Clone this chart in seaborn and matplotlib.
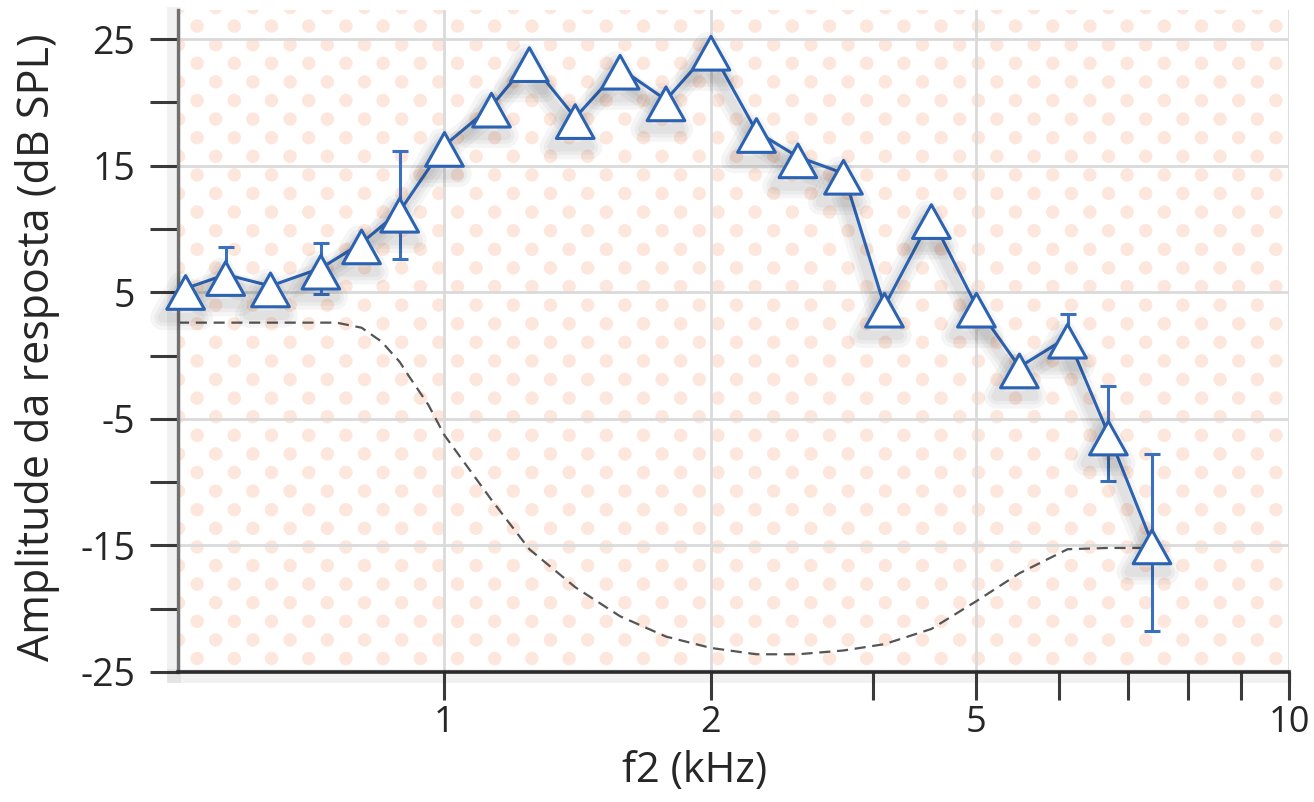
import numpy as np
import matplotlib
matplotlib.use("Agg")
import matplotlib.pyplot as plt
import matplotlib.patheffects as pe
from matplotlib.path import Path
from matplotlib.ticker import FixedLocator, NullFormatter
import pandas as pd
import seaborn as sns

# f2 frequency (kHz) and response amplitude (dB SPL)
FREQ = [0.51, 0.566, 0.636, 0.725, 0.806, 0.89, 1.0, 1.13, 1.247, 1.405, 1.579, 1.779,
        2.0, 2.34, 2.70, 3.16, 3.64, 4.28, 5.0, 5.5, 6.12, 6.70, 7.38]
AMP = [5.3, 6.4, 5.5, 6.9, 8.9, 11.4, 16.6, 19.7, 23.3, 18.8, 22.7, 20.2,
       24.2, 17.7, 15.7, 14.4, 3.9, 10.9, 3.9, -0.9, 1.45, -6.2, -14.8]

# points with error bars (index into FREQ), lower / upper error
ERR_IDX = [1, 3, 5, 20, 21, 22]
ERR_LO = [1.5, 2.0, 3.8, 1.4, 3.7, 7.0]
ERR_HI = [2.2, 2.0, 4.8, 1.8, 3.8, 7.0]

# dashed reference curve
NOISE_FREQ = [0.50, 0.566, 0.636, 0.725, 0.755, 0.806, 0.849, 0.89, 0.911, 0.959, 1.0,
              1.13, 1.247, 1.405, 1.579, 1.779, 2.0, 2.34, 2.70, 3.16, 3.64, 4.28,
              5.0, 5.5, 6.12, 6.70, 7.38]
NOISE_AMP = [2.6, 2.6, 2.6, 2.6, 2.6, 2.2, 1.1, -0.5, -1.6, -3.9, -6.3,
             -11.4, -15.3, -18.3, -20.6, -22.2, -23.1, -23.6, -23.6, -23.3, -22.8, -21.6,
             -19.4, -17.2, -15.3, -15.2, -15.2]

X_TICKS = [1, 2, 5, 10]
X_MINOR = [3.5, 6, 7, 8, 9]
Y_TICKS = [-25, -15, -5, 5, 15, 25]
Y_MINOR = [-20, -10, 0, 10, 20]

BLUE = "#2b62b2"

# frequency axis of the original: log-like but stretched unevenly between labels
AXIS_KHZ = [0.5, 1, 2, 5, 10]
AXIS_POS = [-1.0, 0.0, 1.0, 1.996, 3.169]
_lg = np.log2(AXIS_KHZ)
LG = np.concatenate([[-40], _lg, [40]])
POS = np.concatenate([[-1.0 - 39.0], AXIS_POS, [3.169 + (40 - _lg[-1]) * 1.173]])


def fwd(f):
    return np.interp(np.log2(np.clip(f, 1e-9, None)), LG, POS)


def inv(u):
    return 2.0 ** np.interp(u, POS, LG)


sns.set_theme(style="white")
plt.rcParams["font.family"] = ["Open Sans", "DejaVu Sans"]
plt.rcParams["axes.unicode_minus"] = False

fig = plt.figure(figsize=(13.14, 8.02), dpi=100)
W, H = 1111, 662
ax = fig.add_axes([178 / 1314, 1 - 672 / 802, W / 1314, H / 802])

# polka-dot background
yy, xx = np.mgrid[0:H, 0:W].astype(float)
gx, gy = xx / 18.6, (yy + 3) / 18.6
a, b = (gx + gy) / 2, (gx - gy) / 2
da, db = a - np.round(a), b - np.round(b)
dist = np.hypot((da + db) * 18.6, (da - db) * 18.6)
alpha = np.clip(7.2 - dist, 0, 1)[..., None]
dot = np.array([253, 231, 220]) / 255
bg = (1 - alpha) * np.ones(3) + alpha * dot
ax.imshow(bg, extent=(0, 1, 0, 1), transform=ax.transAxes, aspect="auto",
          zorder=-2, interpolation="antialiased")

ax.set_xscale("function", functions=(fwd, inv))

noise = pd.DataFrame({"f2": NOISE_FREQ, "amp": NOISE_AMP})
sns.lineplot(data=noise, x="f2", y="amp", ax=ax, color="#555555", lw=1.6,
             dashes=False, linestyle=(0, (5, 3)), zorder=2)

ax.errorbar([FREQ[i] for i in ERR_IDX], [AMP[i] for i in ERR_IDX],
            yerr=[ERR_LO, ERR_HI], fmt="none", ecolor="#3a70bd",
            elinewidth=2.2, capsize=6, capthick=2.2, zorder=3)

tri = Path([(-19, -21), (19, -21), (0, 13), (-19, -21)], closed=True)
df = pd.DataFrame({"f2": FREQ, "amp": AMP})
sns.lineplot(data=df, x="f2", y="amp", ax=ax, color=BLUE, lw=2.2, marker=tri,
             markersize=30, markerfacecolor="white", markeredgecolor=BLUE,
             markeredgewidth=2.2, zorder=5, clip_on=False)
main = ax.lines[-1]
main.set_path_effects(
    [pe.SimpleLineShadow(offset=(-3, -6), shadow_color="k", alpha=0.045, linewidth=w)
     for w in (18, 12, 7)] + [pe.Normal()])

ax.set_xlim(0.5, 10)
ax.set_ylim(-25, 27.3)
ax.xaxis.set_major_locator(FixedLocator(X_TICKS))
ax.set_xticklabels([str(t) for t in X_TICKS])
ax.xaxis.set_minor_locator(FixedLocator(X_MINOR))
ax.xaxis.set_minor_formatter(NullFormatter())
ax.yaxis.set_major_locator(FixedLocator(Y_TICKS))
ax.set_yticklabels([str(t) for t in Y_TICKS])
ax.yaxis.set_minor_locator(FixedLocator(Y_MINOR))
ax.yaxis.set_minor_formatter(NullFormatter())

ax.set_axisbelow(True)
ax.grid(True, which="major", color="#dadada", lw=2)
ax.tick_params(which="both", direction="out", length=20, width=2.2, color="#3a3a3a",
               bottom=True, left=True)
ax.tick_params(axis="y", which="both", labelsize=27, pad=11)
ax.tick_params(axis="x", which="both", labelsize=26, pad=4)

for s in ("top", "right"):
    ax.spines[s].set_visible(False)
ax.spines["left"].set_color("#707070")
ax.spines["left"].set_linewidth(2.4)
ax.spines["bottom"].set_color("#2a2a2a")
ax.spines["bottom"].set_linewidth(2.6)
for s in ("left", "bottom"):
    ax.spines[s].set_path_effects(
        [pe.Stroke(offset=(-3, -3), linewidth=10, foreground="k", alpha=0.06), pe.Normal()])

ax.set_xlabel("f2 (kHz)", fontsize=30)
ax.set_ylabel("Amplitude da resposta (dB SPL)", fontsize=31)
ax.xaxis.set_label_coords(0.465, -0.118)
ax.yaxis.set_label_coords(-0.106, 0.49)

fig.savefig("out.png", dpi=100, facecolor="white")
